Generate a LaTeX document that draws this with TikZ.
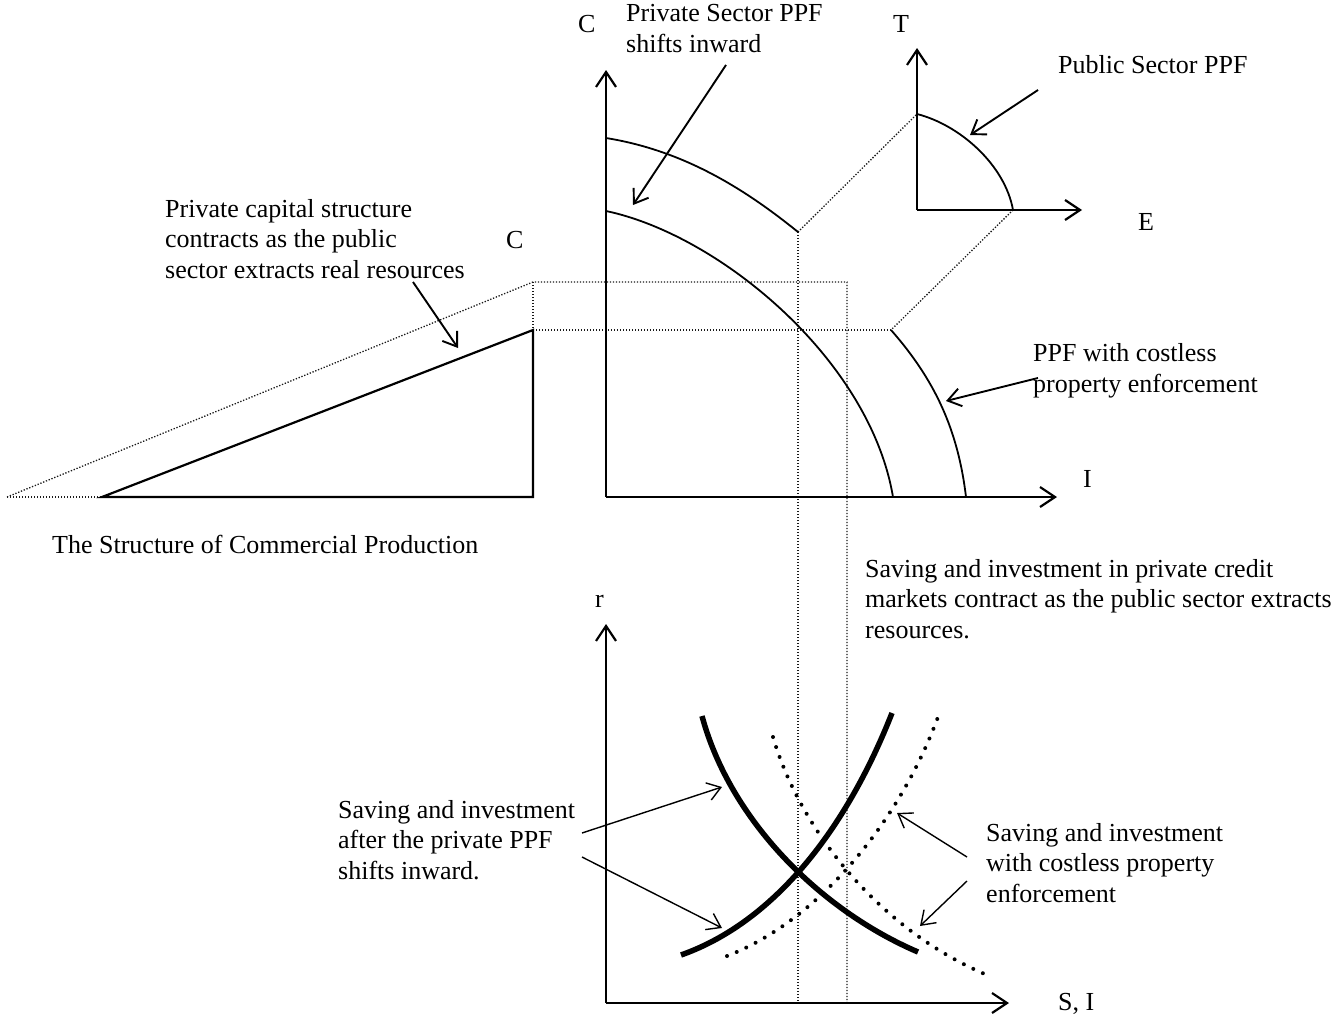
\documentclass[tikz,border=0pt]{standalone}
\usepackage{fontspec}
\setmainfont{Liberation Serif}
\usetikzlibrary{arrows.meta}
\begin{document}
\begin{tikzpicture}[x=1pt,y=-1pt,
  axis/.style={line width=2.2pt,-{Straight Barb[length=15pt,width=20pt]}},
  ppf/.style={line width=1.8pt},
  tri/.style={line width=2.2pt,line join=miter},
  guide/.style={line width=1.3pt,dash pattern=on 1.3pt off 1.7pt,black!90},
  note/.style={line width=1.9pt,-{Straight Barb[length=13pt,width=18pt]}},
  thinnote/.style={line width=1.4pt,-{Straight Barb[length=13pt,width=18pt]}},
  heavy/.style={line width=5.5pt},
  dotcurve/.style={line width=4pt,dash pattern=on 0pt off 10.5pt,line cap=round},
  lbl/.style={font=\fontsize{26}{30.5}\selectfont,inner sep=0pt,anchor=base west,align=left}]
\useasboundingbox (0,0) rectangle (1344,1026);

% ---------- key points ----------
\coordinate (O1) at (606,497);
\coordinate (Ctop) at (606,70);
\coordinate (Iend) at (1057,497);
\coordinate (O2) at (917,210);
\coordinate (Ttop) at (917,48);
\coordinate (Eend) at (1082,210);
\coordinate (O3) at (606,1003);
\coordinate (Rtop) at (606,624);
\coordinate (SIend) at (1009,1003);

\coordinate (oppfA) at (798,232);
\coordinate (oppfB) at (891,330);
\coordinate (pubT) at (917,114);
\coordinate (pubE) at (1013,210);
\coordinate (triTop) at (533,330);
\coordinate (triBot) at (533,497);
\coordinate (triLeft) at (102,497);
\coordinate (oldTop) at (533,282);
\coordinate (oldLeft) at (7,497);
\coordinate (rectR) at (847,282);
\coordinate (v1b) at (798,1003);
\coordinate (v2b) at (847,1003);

% ---------- dotted guides ----------
\draw[guide] (oppfA) -- (pubT);
\draw[guide] (pubE) -- (oppfB);
\draw[guide] (triTop) -- (oppfB);
\draw[guide] (oldLeft) -- (oldTop) -- (rectR) -- (v2b);
\draw[guide] (oldTop) -- (triTop);
\draw[guide] (oldLeft) -- (triLeft);
\draw[guide] (oppfA) -- (v1b);

% ---------- top axes ----------
\draw[axis] (O1) -- (Ctop);
\draw[axis] (O1) -- (Iend);
\draw[axis] (O2) -- (Ttop);
\draw[axis] (O2) -- (Eend);

% ---------- PPFs ----------
\draw[ppf] (606,138) .. controls (680,150) and (740,185) .. (oppfA);
\draw[ppf] (oppfB) .. controls (935,380) and (958,430) .. (966,497);
\draw[ppf] (606,211) .. controls (720,235) and (870,360) .. (893,497);
\draw[ppf] (pubT) .. controls (960,125) and (1005,165) .. (pubE);

% ---------- triangle ----------
\draw[tri] (triLeft) -- (triTop) -- (triBot) -- cycle;

% ---------- bottom axes ----------
\draw[axis] (O3) -- (Rtop);
\draw[axis] (O3) -- (SIend);

% ---------- saving / investment curves ----------
\draw[heavy] (702,716) .. controls (730,820) and (820,910) .. (918,952);
\draw[heavy] (681,955) .. controls (780,920) and (850,820) .. (892,713);
\draw[dotcurve] (773,737) .. controls (800,830) and (880,930) .. (987,975);
\draw[dotcurve] (727,956) .. controls (820,920) and (900,820) .. (938,717);

% ---------- labels (anchor = baseline of the last line) ----------
\node[lbl] (labC1) at (578,32) {C};
\node[lbl] (labT) at (893,32) {T};
\node[lbl] (labE) at (1138,230) {E};
\node[lbl] (labI) at (1083,487) {I};
\node[lbl] (labC2) at (506,248) {C};
\node[lbl] (labr) at (595,607) {r};
\node[lbl] (labSI) at (1058,1010) {S, I};

\node[lbl] (tPriv) at (626,52) {Private Sector PPF\\shifts inward};
\node[lbl] (tPub) at (1058,73) {Public Sector PPF};
\node[lbl] (tCap) at (165,278) {Private capital structure\\contracts as the public\\sector extracts real resources};
\node[lbl] (tCost) at (1033,392) {PPF with costless\\property enforcement};
\node[lbl] (tStruct) at (52,553) {The Structure of Commercial Production};
\node[lbl] (tCredit) at (865,638) {Saving and investment in private credit\\markets contract as the public sector extracts\\resources.};
\node[lbl] (tAfter) at (338,879) {Saving and investment\\after the private PPF\\shifts inward.};
\node[lbl] (tWith) at (986,902) {Saving and investment\\with costless property\\enforcement};

% ---------- annotation arrows ----------
\coordinate (a1s) at (726,65);   \coordinate (a1e) at (633,205);
\coordinate (a2s) at (1038,90);  \coordinate (a2e) at (970,135);
\coordinate (a3s) at (413,282);  \coordinate (a3e) at (458,348);
\coordinate (a4s) at (1038,378); \coordinate (a4e) at (946,401);
\coordinate (a5s) at (582,833);  \coordinate (a5e) at (722,787);
\coordinate (a6s) at (582,857);  \coordinate (a6e) at (722,928);
\coordinate (a7s) at (967,857);  \coordinate (a7e) at (897,813);
\coordinate (a8s) at (967,881);  \coordinate (a8e) at (920,926);
\draw[note] (a1s) -- (a1e);
\draw[note] (a2s) -- (a2e);
\draw[note] (a3s) -- (a3e);
\draw[note] (a4s) -- (a4e);
\draw[thinnote] (a5s) -- (a5e);
\draw[thinnote] (a6s) -- (a6e);
\draw[thinnote] (a7s) -- (a7e);
\draw[thinnote] (a8s) -- (a8e);
\end{tikzpicture}
\end{document}
